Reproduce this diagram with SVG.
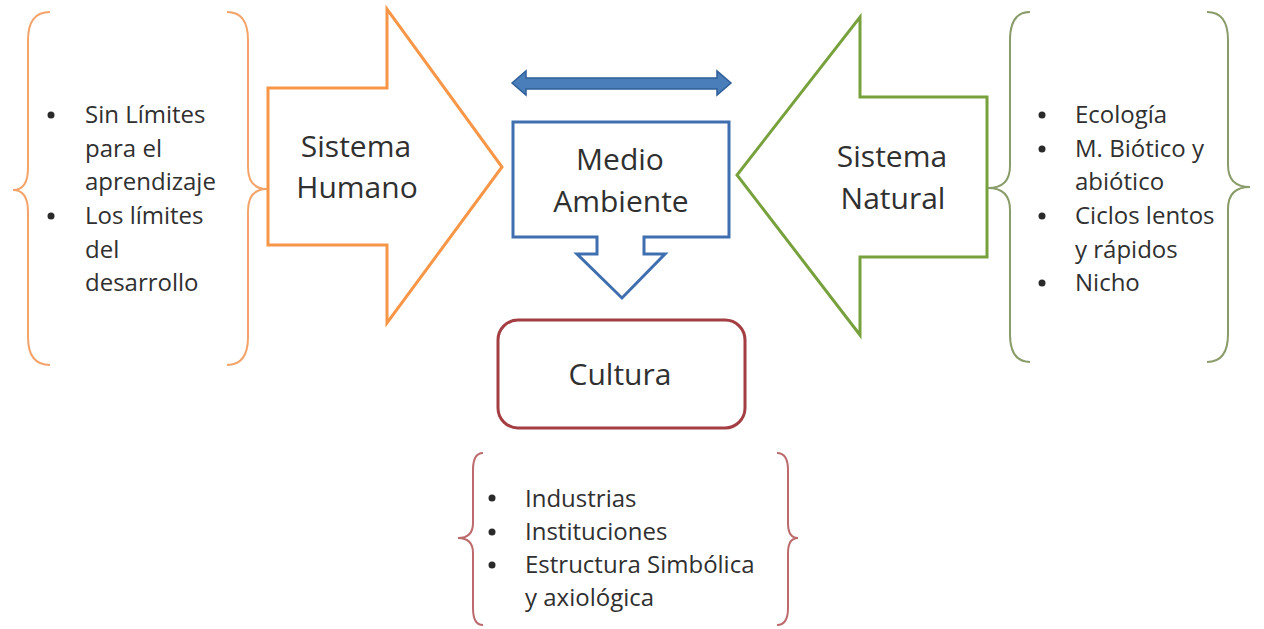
<svg xmlns="http://www.w3.org/2000/svg" width="1264" height="629" viewBox="0 0 1264 629">
<style>
text{font-family:"Open Sans","Liberation Sans",sans-serif;fill:#303030}
.t{font-size:30px;text-anchor:middle}
.b{font-size:24px}
.brace{fill:none;stroke-width:2}
.bo{stroke:#F4A46A}
.bg{stroke:#8A9C6A}
.br{stroke:#BD6A6C}
.dot{fill:#2a2a2a}
</style>
<rect width="1264" height="629" fill="#fff"/>
<g id="connectors">
<path d="M512,83 L526,71 L526,78 L717,78 L717,71 L731,83 L717,95 L717,89 L526,89 L526,95 Z" fill="#4A7EBB" stroke="#2F5F98" stroke-width="1.5"/>
</g>
<g id="humano-list">
<path class="brace bo" d="M50,12 Q28,12 28,40 L28,168 Q28,190 13,190 Q28,190 28,212 L28,337 Q28,365 50,365"/>
<path class="brace bo" d="M227,12 Q248,12 248,40 L248,167 Q248,189 267,189 Q248,189 248,211 L248,337 Q248,365 227,365"/>
<circle class="dot" cx="51" cy="115" r="3.5"/>
<circle class="dot" cx="51" cy="216" r="3.5"/>
<text class="b" x="85" y="123">Sin Límites</text>
<text class="b" x="85" y="157">para el</text>
<text class="b" x="85" y="190">aprendizaje</text>
<text class="b" x="85" y="224">Los límites</text>
<text class="b" x="85" y="258">del</text>
<text class="b" x="85" y="291">desarrollo</text>
</g>
<g id="sistema-humano">
<path d="M268,88 L387,88 L387,9 L502,167 L387,323 L387,245 L268,245 Z" fill="#fff" stroke="#F79646" stroke-width="3"/>
<text class="t" x="356" y="157">Sistema</text>
<text class="t" x="357" y="198">Humano</text>
</g>
<g id="medio-ambiente">
<path d="M513,122 L729,122 L729,237 L644,237 L644,254 L665,254 L622,298 L577,254 L597,254 L597,237 L513,237 Z" fill="#fff" stroke="#3F6FAF" stroke-width="3"/>
<text class="t" x="620" y="170">Medio</text>
<text class="t" x="621" y="212">Ambiente</text>
</g>
<g id="sistema-natural">
<path d="M987,97 L860,97 L860,17 L737,175 L860,335 L860,257 L987,257 Z" fill="#fff" stroke="#77A13C" stroke-width="3"/>
<text class="t" x="892" y="167">Sistema</text>
<text class="t" x="893" y="209">Natural</text>
</g>
<g id="natural-list">
<path class="brace bg" d="M1030,12 Q1010,12 1010,40 L1010,166 Q1010,188 988,188 Q1010,188 1010,210 L1010,334 Q1010,362 1030,362"/>
<path class="brace bg" d="M1207,12 Q1228,12 1228,40 L1228,165 Q1228,187 1250,187 Q1228,187 1228,209 L1228,334 Q1228,362 1207,362"/>
<circle class="dot" cx="1042" cy="115" r="3.5"/>
<circle class="dot" cx="1042" cy="149" r="3.5"/>
<circle class="dot" cx="1042" cy="216" r="3.5"/>
<circle class="dot" cx="1042" cy="283" r="3.5"/>
<text class="b" x="1075" y="123">Ecología</text>
<text class="b" x="1075" y="157">M. Biótico y</text>
<text class="b" x="1075" y="190">abiótico</text>
<text class="b" x="1075" y="224">Ciclos lentos</text>
<text class="b" x="1075" y="258">y rápidos</text>
<text class="b" x="1075" y="291">Nicho</text>
</g>
<g id="cultura">
<rect x="498" y="320" width="247" height="108" rx="20" ry="20" fill="#fff" stroke="#A33F42" stroke-width="3"/>
<text class="t" x="620" y="385">Cultura</text>
</g>
<g id="cultura-list">
<path class="brace br" d="M483,453 Q473,453 473,470 L473,523 Q473,538 458,538 Q473,538 473,553 L473,608 Q473,625 483,625"/>
<path class="brace br" d="M777,453 Q788,453 788,470 L788,523 Q788,538 798,538 Q788,538 788,553 L788,608 Q788,625 777,625"/>
<circle class="dot" cx="492" cy="498" r="3.5"/>
<circle class="dot" cx="492" cy="532" r="3.5"/>
<circle class="dot" cx="492" cy="565" r="3.5"/>
<text class="b" x="525" y="507">Industrias</text>
<text class="b" x="525" y="540">Instituciones</text>
<text class="b" x="525" y="573">Estructura Simbólica</text>
<text class="b" x="525" y="606">y axiológica</text>
</g>
</svg>
